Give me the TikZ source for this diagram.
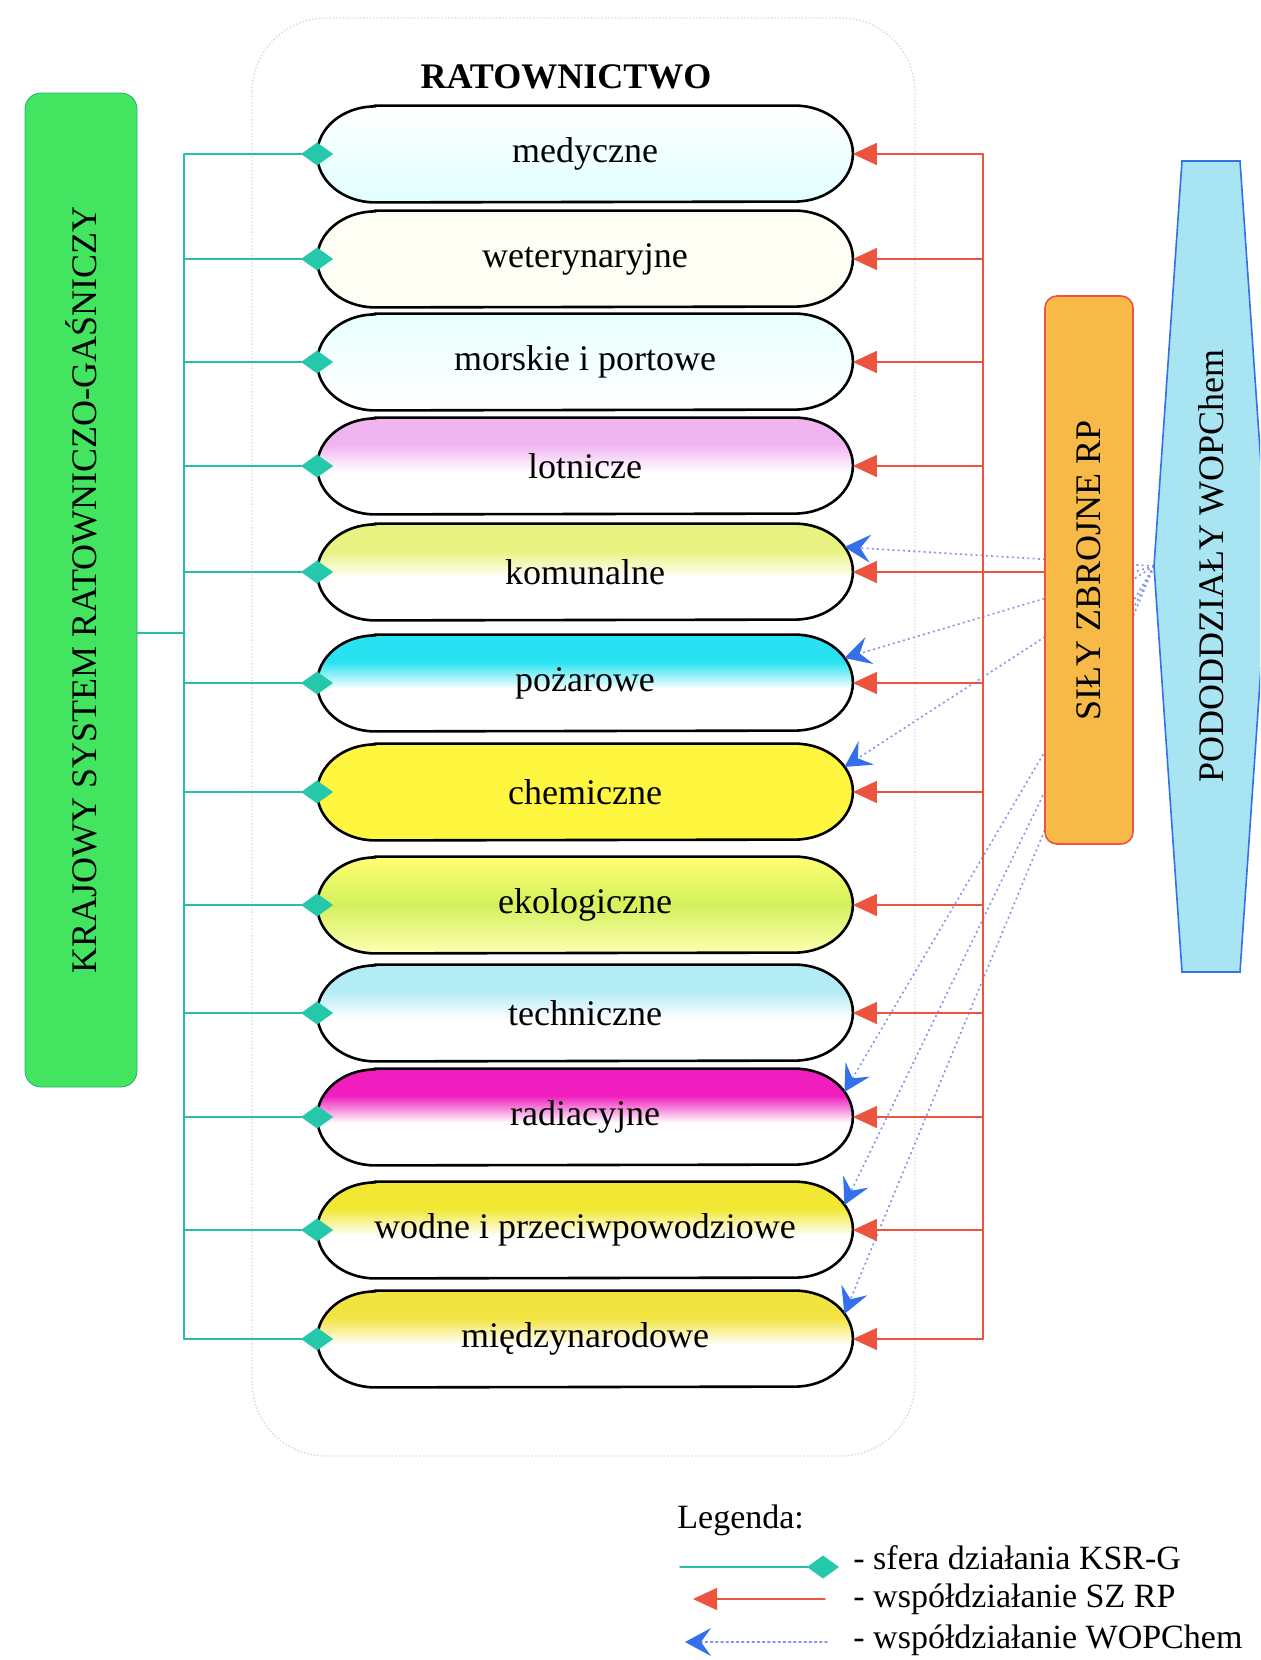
\documentclass[tikz,border=0pt]{standalone}
\usepackage{fontspec}
\setmainfont{Liberation Serif}
\usetikzlibrary{arrows.meta,backgrounds}

\definecolor{ksrgGreen}{RGB}{66,228,96}
\definecolor{ksrgEdge}{RGB}{40,175,110}
\definecolor{tealLine}{RGB}{40,190,170}
\definecolor{tealTip}{RGB}{38,200,172}
\definecolor{szRed}{RGB}{236,84,64}
\definecolor{szOrange}{RGB}{247,186,72}
\definecolor{wopBlue}{RGB}{52,112,236}
\definecolor{wopDot}{RGB}{130,150,230}
\definecolor{wopFill}{RGB}{168,228,242}
\definecolor{frameGray}{RGB}{222,212,226}
\definecolor{lotCol}{RGB}{240,180,240}
\definecolor{komCol}{RGB}{232,242,128}
\definecolor{pozCol}{RGB}{40,226,242}
\definecolor{chemCol}{RGB}{255,246,64}
\definecolor{ekoCol}{RGB}{212,240,92}
\definecolor{tecCol}{RGB}{180,236,246}
\definecolor{radCol}{RGB}{240,30,190}
\definecolor{wodCol}{RGB}{242,232,52}
\definecolor{midCol}{RGB}{242,228,64}

\colorlet{capcol}{white}
\pgfdeclareverticalshading[capcol]{capfade}{100bp}{color(0bp)=(white); color(47bp)=(white); color(61bp)=(capcol); color(100bp)=(capcol)}

\newcommand\bigsz{\fontsize{18}{21}\selectfont}
\newcommand\legsz{\fontsize{17}{20}\selectfont}

\begin{document}
\begin{tikzpicture}[x=0.5pt,y=-0.5pt,font=\bigsz,line cap=round,
  capnode/.style={minimum width=267.5pt,minimum height=48pt,inner sep=0pt},
  capline/.style={draw=black,line width=1.3pt},
  fadetop/.style={/utils/exec={\colorlet{capcol}{#1}},shading=capfade},
  medfill/.style={top color=white,bottom color=cyan!12},
  wetfill/.style={fill=yellow!4},
  morfill/.style={top color=cyan!9,bottom color=white},
  lotfill/.style={fadetop=lotCol},
  komfill/.style={fadetop=komCol},
  pozfill/.style={fadetop=pozCol},
  chemfill/.style={fill=chemCol},
  ekofill/.style={top color=yellow!55,bottom color=yellow!30,middle color=ekoCol},
  tecfill/.style={fadetop=tecCol},
  radfill/.style={fadetop=radCol},
  wodfill/.style={fadetop=wodCol},
  midfill/.style={fadetop=midCol},
  ksrgbox/.style={draw=ksrgEdge,fill=ksrgGreen,rounded corners=8pt,minimum width=56pt,minimum height=497pt,inner sep=0pt},
  szbox/.style={draw=szRed,fill=szOrange,line width=0.8pt,rounded corners=6pt,minimum width=44pt,minimum height=274pt,inner sep=0pt},
  ksrgline/.style={tealLine,line width=0.7pt},
  ksrgtip/.style={-{Diamond[length=16pt,width=11.5pt,color=tealTip]},shorten >=-8pt},
  szline/.style={szRed,line width=0.7pt},
  szarrow/.style={-{Triangle[length=12pt,width=11pt]}},
  wopline/.style={wopDot,line width=0.8pt,dash pattern=on 1pt off 1.6pt,-{Stealth[length=13pt,width=14pt,inset=5pt,color=wopBlue]}},
  frameline/.style={frameGray,line width=0.7pt,densely dotted,rounded corners=37pt},
  legtext/.style={anchor=west,inner sep=0pt,font=\legsz}]
\useasboundingbox (0,0) rectangle (1260,1660);
\clip (0,0) rectangle (1260,1660);

\begin{pgfonlayer}{background}
\draw[frameline] (252,18) rectangle (915,1456);
\end{pgfonlayer}
\node[font=\bigsz\bfseries] (title) at (566,77) {RATOWNICTWO};

% kinds of rescue
\foreach \i/\yy/\lab/\look in {1/154/medyczne/medfill, 2/259/weterynaryjne/wetfill,
  3/362/morskie i portowe/morfill, 4/466/lotnicze/lotfill, 5/572/komunalne/komfill,
  6/683/pożarowe/pozfill, 7/792/chemiczne/chemfill, 8/905/ekologiczne/ekofill,
  9/1013/techniczne/tecfill, 10/1117/radiacyjne/radfill,
  11/1230/wodne i przeciwpowodziowe/wodfill, 12/1339/międzynarodowe/midfill}{
  \node[capnode] (c\i) at (585,\yy) {\lab};
  \begin{pgfonlayer}{background}
  \draw[capline,\look] ([xshift=29pt]c\i.north west) -- ([xshift=-29pt]c\i.north east)
    arc[start angle=90,end angle=-90,x radius=29pt,y radius=24pt]
    -- ([xshift=29pt]c\i.south west)
    arc[start angle=270,end angle=90,x radius=29pt,y radius=24pt] -- cycle;
  \end{pgfonlayer}
  \coordinate (tb\i) at (184,\yy);
  \coordinate (rb\i) at (983,\yy);
}

% KSR-G
\node[ksrgbox] (ksrg) at (81,590) {\rotatebox{90}{KRAJOWY SYSTEM RATOWNICZO-GAŚNICZY}};
\draw[ksrgline] (ksrg.east |- 0,633) -- (tb1 |- 0,633);
\draw[ksrgline] (tb1) -- (tb12);
\foreach \i in {1,...,12}
  \draw[ksrgline,ksrgtip] (tb\i) -- (c\i.west);

% WOPChem
\draw[wopBlue,fill=wopFill,line width=0.8pt] (1182,161) -- (1240,161) -- (1268,566)
  -- (1240,972) -- (1182,972) -- (1154,566) -- cycle;
\coordinate (wopw) at (1154,566);
\node (wop) at (1211,566) {\rotatebox{90}{PODODDZIAŁY WOPChem}};
\begin{pgfonlayer}{background}
\foreach \i in {5,6,7,10,11,12}
  \draw[wopline] (wopw) -- ([xshift=-4.25pt,yshift=12.5pt]c\i.east);
\end{pgfonlayer}

% SZ RP
\node[szbox] (szrp) at (1089,570) {\rotatebox{90}{SIŁY ZBROJNE RP}};
\draw[szline] (rb1) -- (rb12);
\foreach \i in {1,2,3,4,6,7,8,9,10,11,12}
  \draw[szline,szarrow] (rb\i) -- (c\i.east);
\draw[szline,szarrow] (szrp.west |- c5) -- (c5.east);

% legend
\node[legtext] (leg) at (677,1520) {Legenda:};
\coordinate (lk1) at (680,1567);
\coordinate (lk2) at (823,1567);
\draw[ksrgline,ksrgtip] (lk1) -- (lk2);
\node[legtext] (leg1) at (853,1558) {- sfera działania KSR-G};
\coordinate (ls1) at (825,1599);
\coordinate (ls2) at (693,1599);
\draw[szline,szarrow] (ls1) -- (ls2);
\node[legtext] (leg2) at (853,1599) {- współdziałanie SZ RP};
\coordinate (lw1) at (827,1642);
\coordinate (lw2) at (685,1642);
\draw[wopline] (lw1) -- (lw2);
\node[legtext] (leg3) at (853,1640) {- współdziałanie WOPChem};
\end{tikzpicture}
\end{document}
